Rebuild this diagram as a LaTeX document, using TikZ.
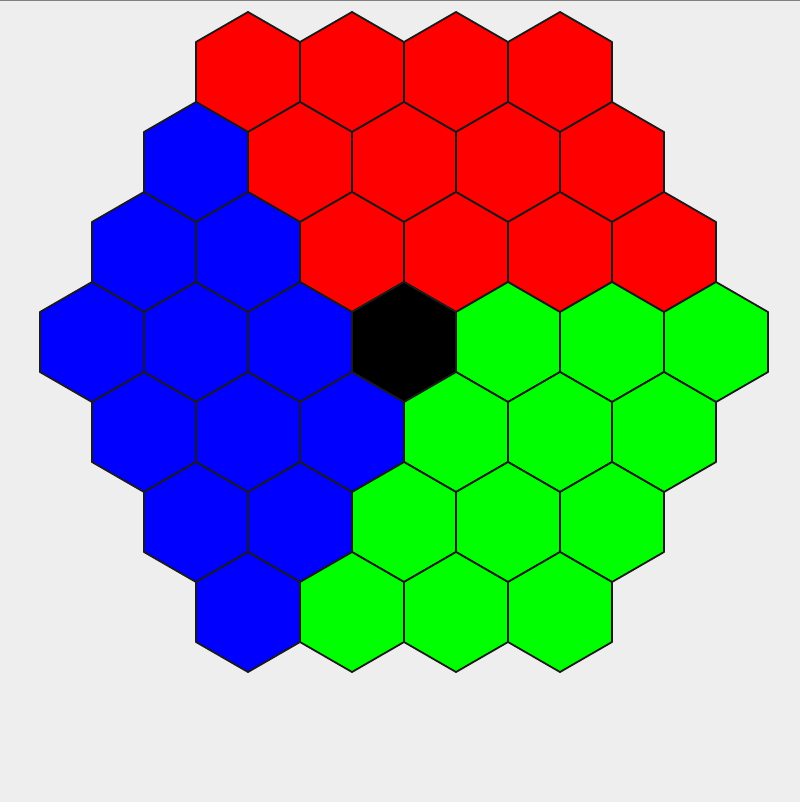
\documentclass[tikz,border=0pt]{standalone}
\definecolor{bg}{HTML}{EEEEEE}
\definecolor{topline}{HTML}{808080}
\definecolor{hexred}{HTML}{FF0000}
\definecolor{hexblue}{HTML}{0000FF}
\definecolor{hexgreen}{HTML}{00FF00}
\definecolor{hexedge}{HTML}{1A1A1A}
\tikzset{hexcell/.style={draw=hexedge, line width=1.8pt, line join=round}}
\newcommand\hexcell[3]{%
  \filldraw[hexcell, fill=#3] (#1,#2-60) -- (#1+52,#2-30) -- (#1+52,#2+30) -- (#1,#2+60) -- (#1-52,#2+30) -- (#1-52,#2-30) -- cycle;}
\begin{document}
\begin{tikzpicture}[x=1pt,y=-1pt]
\fill[bg] (0,0) rectangle (800,802);
\useasboundingbox (0,0) rectangle (800,802);
\draw[topline, line width=1.5pt] (0,0.75) -- (800,0.75);
% row 0
\foreach \x in {248,352,456,560} {\hexcell{\x}{72}{hexred}}
% row 1
\hexcell{196}{162}{hexblue}
\foreach \x in {300,404,508,612} {\hexcell{\x}{162}{hexred}}
% row 2
\foreach \x in {144,248} {\hexcell{\x}{252}{hexblue}}
\foreach \x in {352,456,560,664} {\hexcell{\x}{252}{hexred}}
% row 3
\foreach \x in {92,196,300} {\hexcell{\x}{342}{hexblue}}
\hexcell{404}{342}{black}
\foreach \x in {508,612,716} {\hexcell{\x}{342}{hexgreen}}
% row 4
\foreach \x in {144,248,352} {\hexcell{\x}{432}{hexblue}}
\foreach \x in {456,560,664} {\hexcell{\x}{432}{hexgreen}}
% row 5
\foreach \x in {196,300} {\hexcell{\x}{522}{hexblue}}
\foreach \x in {404,508,612} {\hexcell{\x}{522}{hexgreen}}
% row 6
\hexcell{248}{612}{hexblue}
\foreach \x in {352,456,560} {\hexcell{\x}{612}{hexgreen}}
\end{tikzpicture}
\end{document}
